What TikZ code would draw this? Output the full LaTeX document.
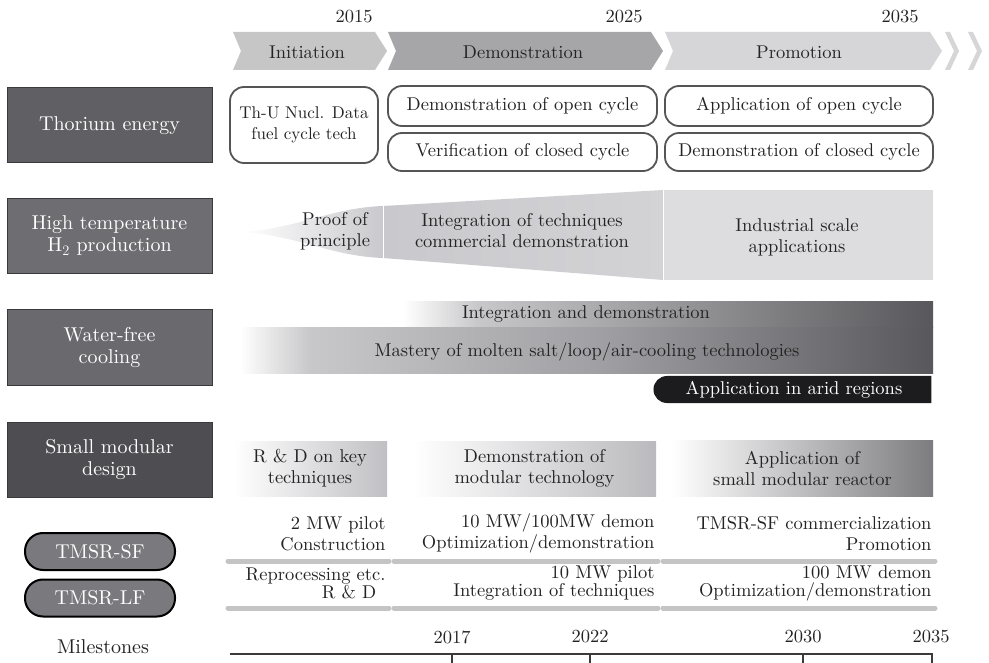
\documentclass[tikz,border=0pt]{standalone}
\usepackage{fontspec}
\setmainfont{lmroman10-regular}[Extension=.otf, BoldFont=lmroman10-bold]
\usepackage{tikz}
\usetikzlibrary{shapes.misc}
\usepackage{xcolor}
\definecolor{initgray}{RGB}{198,198,198}
\definecolor{demogray}{RGB}{166,166,168}
\definecolor{promgray}{RGB}{214,214,216}
\definecolor{labelthor}{RGB}{96,96,100}
\definecolor{labelhtemp}{RGB}{110,110,114}
\definecolor{labelwfc}{RGB}{106,106,110}
\definecolor{labelsmd}{RGB}{78,78,82}
\definecolor{labeledge}{RGB}{58,58,60}
\definecolor{boxedge}{RGB}{85,85,85}
\definecolor{inktext}{RGB}{35,35,35}
\definecolor{htempa}{RGB}{201,201,205}
\definecolor{htempb}{RGB}{211,211,214}
\definecolor{htempc}{RGB}{221,221,224}
\definecolor{coolmid}{RGB}{200,200,202}
\definecolor{coolgray}{RGB}{160,160,164}
\definecolor{cooldark}{RGB}{88,88,92}
\definecolor{aridblack}{RGB}{28,28,30}
\definecolor{smdlight}{RGB}{192,192,196}
\definecolor{smdmid}{RGB}{186,186,190}
\definecolor{smddark}{RGB}{124,124,128}
\definecolor{pillgray}{RGB}{122,122,126}
\definecolor{bargray}{RGB}{196,196,196}
\definecolor{axisdark}{RGB}{58,58,58}
\pgfdeclarehorizontalshading{coolupper}{100bp}{color(0bp)=(white); color(25bp)=(white); color(32bp)=(coolmid); color(75bp)=(cooldark); color(100bp)=(cooldark)}
\pgfdeclarehorizontalshading{coollower}{100bp}{color(0bp)=(white); color(25bp)=(white); color(30bp)=(coolmid); color(51bp)=(coolgray); color(75bp)=(cooldark); color(100bp)=(cooldark)}

\begin{document}
\begin{tikzpicture}[x=1pt, y=-1pt, font=\fontsize{18.5}{21}\selectfont, text=inktext,
  rowlabel/.style={draw=labeledge, line width=1pt, text=white, minimum width=205pt, minimum height=75pt, align=center, inner sep=2pt, font=\fontsize{20}{22}\selectfont},
  cyclebox/.style={draw=boxedge, line width=1.8pt, rounded corners=14pt, fill=white, inner sep=0pt},
  reactor/.style={draw=black, line width=2pt, rounded corners=18pt, fill=pillgray, text=white, minimum width=150pt, minimum height=37pt, font=\fontsize{20}{22}\selectfont},
  trackbar/.style={line width=5pt, line cap=round, draw=bargray},
  timeaxis/.style={line width=2pt, draw=axisdark}]
  \useasboundingbox (0,0) rectangle (989,663);
  \fill[white] (0,0) rectangle (989,663);
  % Phases
  \fill[initgray] (233,32) -- (375,32) -- (387,51) -- (375,70) -- (233,70) -- (241,51) -- cycle;
  \fill[demogray] (388,32) -- (651,32) -- (663,51) -- (651,70) -- (388,70) -- (396,51) -- cycle;
  \fill[promgray] (665,32) -- (930,32) -- (942,51) -- (930,70) -- (665,70) -- (673,51) -- cycle;
  \fill[promgray] (945,32) -- (950,32) -- (959,51) -- (950,70) -- (945,70) -- (954,51) -- cycle;
  \fill[promgray] (968,32) -- (973,32) -- (982,51) -- (973,70) -- (968,70) -- (977,51) -- cycle;
  \node (init) at (307,52) {Initiation};
  \node (demo) at (523,52) {Demonstration};
  \node (prom) at (799,52) {Promotion};
  \node (y2015) at (354,17) {2015};
  \node (y2025) at (624,17) {2025};
  \node (y2035) at (900,17) {2035};
  % Row labels
  \node[rowlabel, fill=labelthor] (thor) at (109.5,125.5) {Thorium energy};
  \node[rowlabel, fill=labelhtemp] (htemp) at (109.5,236) {High temperature\\H$_2$ production};
  \node[rowlabel, fill=labelwfc] (wfc) at (109.5,347.5) {Water-free\\cooling};
  \node[rowlabel, fill=labelsmd] (smd) at (109.5,459.5) {Small modular\\design};
  \node[reactor] (sf) at (100,551.5) {TMSR-SF};
  \node[reactor] (lf) at (100,598) {TMSR-LF};
  \node[font=\fontsize{20}{22}\selectfont] (miles) at (103,647) {Milestones};
  % Thorium energy
  \node[cyclebox, minimum width=148pt, minimum height=76pt, align=center, font=\fontsize{17}{21}\selectfont] (thu) at (304,125) {Th-U Nucl. Data\\fuel cycle tech};
  \node[cyclebox, minimum width=269pt, minimum height=40pt] (opendemo) at (522.5,106) {Demonstration of open cycle};
  \node[cyclebox, minimum width=269pt, minimum height=38pt] (closedver) at (522.5,152) {Verification of closed cycle};
  \node[cyclebox, minimum width=268pt, minimum height=40pt] (openapp) at (799,106) {Application of open cycle};
  \node[cyclebox, minimum width=268pt, minimum height=38pt] (closeddemo) at (799,152) {Demonstration of closed cycle};
  % H2 production wedge
  \shade[left color=white, right color=htempa] (242,232) .. controls (300,228) and (330,208) .. (383,206) -- (383,258) .. controls (330,256) and (300,236) .. (242,232) -- cycle;
  \shade[left color=htempa, right color=htempb] (383,206) -- (663,190) -- (663,280) -- (383,258) -- cycle;
  \fill[htempc] (663,190) rectangle (933,280);
  \draw[white, line width=1pt] (383,206) -- (383,258);
  \draw[white, line width=1pt] (663,190) -- (663,280);
  \node[align=center] (proof) at (335,231) {Proof of\\principle};
  \node[align=center] (integ) at (522,231) {Integration of techniques\\commercial demonstration};
  \node[align=center] (indus) at (797,237) {Industrial scale\\applications};
  % Water-free cooling
  \shade[shading=coolupper] (403,302) rectangle (933,328);
  \shade[shading=coollower] (240,328) rectangle (933,374);
  \node (intdemo) at (586,314) {Integration and demonstration};
  \node (mastery) at (587,352) {Mastery of molten salt/loop/air-cooling technologies};
  \node[shape=rounded rectangle, rounded rectangle right arc=none, fill=aridblack, text=white, minimum width=278pt, minimum height=27pt, inner sep=0pt] (arid) at (794,389.5) {Application in arid regions};
  % Small modular design
  \node[left color=white, right color=smdlight, minimum width=154pt, minimum height=55pt, align=center] (rdkey) at (310,468.5) {R \& D on key\\techniques};
  \node[left color=white, right color=smdmid, minimum width=243pt, minimum height=55pt, align=center] (modtech) at (534.5,468.5) {Demonstration of\\modular technology};
  \node[left color=white, right color=smddark, minimum width=261pt, minimum height=56pt, align=center] (smr) at (802.5,468) {Application of\\small modular reactor};
  % TMSR-SF
  \node[anchor=east, align=right] (sfa) at (389,533.5) {2 MW pilot\\Construction};
  \node[anchor=east, align=right] (sfb) at (658,533.5) {10 MW/100MW demon\\Optimization/demonstration};
  \node[anchor=east, align=right] (sfc) at (935,533.5) {TMSR-SF commercialization\\Promotion};
  \draw[trackbar] (228,561) -- (389,561);
  \draw[trackbar] (394,561) -- (658,561);
  \draw[trackbar] (663,561) -- (935,561);
  % TMSR-LF
  \node[anchor=east, align=right, font=\fontsize{18.5}{18}\selectfont] (lfa) at (389,583) {Reprocessing etc.\\R \& D\ \,};
  \node[anchor=east, align=right, font=\fontsize{18.5}{18}\selectfont] (lfb) at (658,583) {10 MW pilot\\Integration of techniques};
  \node[anchor=east, align=right, font=\fontsize{18.5}{18}\selectfont] (lfc) at (935,583) {100 MW demon\\Optimization/demonstration};
  \draw[trackbar] (228,608) -- (389,608);
  \draw[trackbar] (394,608) -- (658,608);
  \draw[trackbar] (663,608) -- (935,608);
  % Milestones
  \node (m2017) at (452,637) {2017};
  \node (m2022) at (590,637) {2022};
  \node (m2030) at (803,637) {2030};
  \node (m2035) at (931,637) {2035};
  \draw[timeaxis] (230,654) -- (933,654);
  \foreach \tx in {452,590,803,932} \draw[timeaxis] (\tx,654) -- (\tx,663);
\end{tikzpicture}
\end{document}
